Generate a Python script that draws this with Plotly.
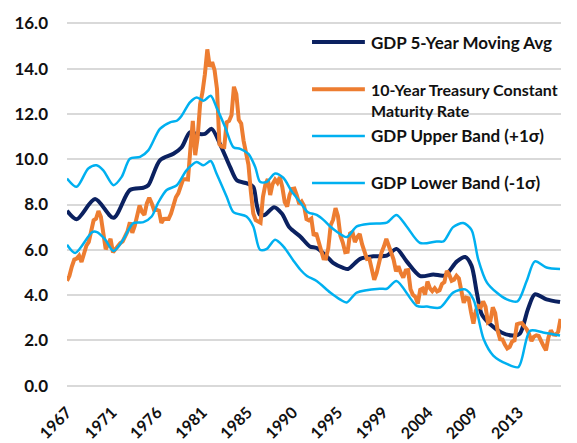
import plotly.graph_objects as go

# ---------------- data ----------------
# 10-Year Treasury Constant Maturity Rate, quarterly from 1967 Q1
treasury_start = 1967.0
treasury = [
    4.63, 4.85, 5.26, 5.57,   5.61, 5.74, 5.46, 5.77,   6.18, 6.35, 6.86, 7.30,
    7.37, 7.71, 7.46, 6.85,   6.02, 6.25, 6.48, 5.89,   6.03, 6.15, 6.29, 6.37,
    6.60, 6.81, 7.21, 6.75,   7.05, 7.54, 7.96, 7.67,   7.54, 8.05, 8.30, 8.06,
    7.75, 7.77, 7.73, 7.19,   7.36, 7.37, 7.36, 7.60,   8.01, 8.32, 8.49, 8.82,
    9.11, 9.11, 9.10, 10.45,  11.69, 10.18, 10.95, 12.42, 12.96, 13.75, 14.85, 14.09,
    14.29, 13.93, 13.11, 10.67, 10.56, 10.54, 11.63, 11.69, 11.94, 13.20, 12.87, 11.74,
    11.58, 10.81, 10.34, 9.76, 8.56, 7.60, 7.31, 7.26,   7.19, 8.34, 8.88, 9.12,
    8.42, 8.91, 9.10, 8.96,   9.21, 8.77, 8.11, 7.91,   8.42, 8.68, 8.70, 8.40,
    8.02, 8.13, 7.94, 7.35,   7.30, 7.38, 6.62, 6.74,   6.28, 5.99, 5.62, 5.61,
    6.07, 7.08, 7.33, 7.84,   7.48, 6.62, 6.32, 5.89,   5.91, 6.72, 6.78, 6.34,
    6.56, 6.70, 6.24, 5.91,   5.59, 5.60, 5.20, 4.67,   4.98, 5.54, 5.88, 6.14,
    6.48, 6.18, 5.89, 5.57,   5.05, 5.27, 4.98, 4.77,   5.08, 5.10, 4.26, 4.01,
    3.92, 3.62, 4.23, 4.29,   4.02, 4.60, 4.30, 4.17,   4.30, 4.16, 4.21, 4.49,
    4.57, 5.07, 4.90, 4.63,   4.68, 4.85, 4.73, 4.26,   3.66, 3.89, 3.86, 3.25,
    2.74, 3.31, 3.52, 3.46,   3.72, 3.49, 2.79, 2.86,   3.46, 3.21, 2.43, 2.05,
    2.04, 1.82, 1.64, 1.71,   1.95, 2.00, 2.71, 2.75,   2.76, 2.62, 2.50, 2.28,
    1.97, 2.16, 2.22, 2.19,   1.92, 1.75, 1.56, 2.13,   2.44, 2.26, 2.24, 2.37,
    2.95,
]
treasury_years = [treasury_start + i / 4 for i in range(len(treasury))]

# GDP 5-Year Moving Average
gdp_avg_years = [1967.0, 1968.0, 1969.9, 1971.8, 1973.5, 1974.9, 1975.4, 1976.6, 1978.0,
                 1978.85, 1979.7, 1980.4, 1981.25, 1981.95, 1982.8, 1983.85, 1984.55,
                 1985.6, 1986.25, 1986.6, 1986.95, 1987.45, 1988.4, 1989.2, 1990.0,
                 1991.1, 1992.1, 1992.8, 1993.85, 1994.5, 1995.55, 1996.05, 1997.3,
                 1998.65, 2000.05, 2001.05, 2002.1, 2003.5, 2004.85, 2006.05, 2007.3,
                 2008.15, 2008.8, 2009.35, 2009.85, 2010.7, 2011.9, 2013.1, 2013.8,
                 2014.65, 2015.35, 2016.55, 2017.95]
gdp_avg = [7.72, 7.35, 8.24, 7.41, 8.64, 8.74, 8.85, 9.95, 10.24,
           10.53, 11.19, 11.12, 11.12, 11.34, 10.68, 9.66, 9.07,
           8.93, 8.78, 8.00, 7.54, 7.54, 7.88, 7.60, 6.98,
           6.59, 6.15, 6.08, 5.71, 5.42, 5.20, 5.15, 5.60,
           5.71, 5.74, 6.04, 5.49, 4.84, 4.91, 4.87, 5.49,
           5.68, 5.30, 4.11, 3.16, 2.72, 2.35, 2.21, 2.30,
           3.40, 4.03, 3.81, 3.69]

# GDP Upper Band (+1 sigma)
gdp_upper_years = [1967.0, 1968.0, 1969.2, 1970.05, 1970.75, 1971.8, 1972.65, 1973.5,
                   1974.55, 1975.4, 1976.6, 1977.65, 1978.35, 1978.85, 1979.7, 1980.4,
                   1981.1, 1981.85, 1982.45, 1983.35, 1984.2, 1984.9, 1985.75, 1986.45,
                   1986.95, 1987.65, 1988.5, 1989.35, 1990.25, 1991.1, 1991.9, 1992.8,
                   1993.5, 1994.2, 1994.85, 1995.9, 1996.95, 1998.3, 2000.05, 2001.05,
                   2002.1, 2003.5, 2005.2, 2005.9, 2006.9, 2007.95, 2008.8, 2009.5,
                   2010.4, 2011.4, 2012.45, 2013.55, 2014.5, 2015.35, 2016.55, 2017.95]
gdp_upper = [9.15, 8.78, 9.59, 9.73, 9.51, 8.85, 9.22, 10.02,
             10.10, 10.39, 11.34, 11.63, 11.70, 11.92, 12.51, 12.73,
             12.58, 12.80, 12.29, 11.41, 10.53, 10.46, 10.24, 9.66,
             9.00, 9.00, 9.37, 9.18, 8.56, 8.10, 7.66, 7.54,
             7.32, 7.03, 6.81, 6.56, 7.03, 7.15, 7.20, 7.54,
             7.03, 6.30, 6.37, 6.37, 7.00, 7.18, 6.88, 5.57,
             4.55, 4.11, 3.81, 3.72, 4.62, 5.49, 5.22, 5.15]

# GDP Lower Band (-1 sigma)
gdp_lower_years = [1967.0, 1967.85, 1969.6, 1970.1, 1970.95, 1971.8, 1972.8, 1973.85,
                   1974.9, 1975.75, 1976.45, 1977.3, 1978.35, 1979.35, 1980.4, 1981.1,
                   1981.85, 1982.45, 1983.5, 1984.2, 1985.55, 1986.25, 1986.95, 1987.65,
                   1988.5, 1989.35, 1990.4, 1991.1, 1991.8, 1992.8, 1994.2, 1995.2,
                   1995.9, 1996.95, 1999.35, 2000.05, 2001.05, 2003.15, 2004.2, 2005.55,
                   2006.9, 2008.15, 2009.0, 2010.05, 2011.05, 2012.45, 2013.65, 2014.85,
                   2016.2, 2017.95]
gdp_lower = [6.22, 5.86, 6.78, 6.78, 6.45, 5.95, 6.44, 7.18,
             7.22, 7.47, 8.10, 8.64, 8.85, 9.51, 9.88, 9.73,
             9.92, 9.37, 8.34, 7.66, 7.47, 7.03, 6.00, 6.04,
             6.44, 6.15, 5.52, 5.13, 4.84, 4.62, 4.11, 3.81,
             3.67, 4.11, 4.28, 4.28, 4.62, 3.52, 3.49, 3.45,
             4.11, 4.25, 3.81, 2.06, 1.33, 0.96, 0.82, 2.42,
             2.35, 2.21]

tick_labels = ["1967", "1971", "1976", "1981", "1985", "1990",
               "1995", "1999", "2004", "2009", "2013"]
tick_years = [1967 + i * 56 / 12 for i in range(len(tick_labels))]
y_ticks = [0, 2, 4, 6, 8, 10, 12, 14, 16]
x_range = [1967.0, 2018.05]

series_names = ["GDP 5-Year Moving Avg",
                "10-Year Treasury Constant<br>Maturity Rate",
                "GDP Upper Band (+1σ)",
                "GDP Lower Band (-1σ)"]

# ---------------- style ----------------
NAVY = "#0B2160"
ORANGE = "#ED7D31"
LIGHT = "#00B0F0"
GRID = "#D9D9D9"
FONT = "Lato"
TXT = "#111111"

fig = go.Figure()

fig.add_trace(go.Scatter(x=gdp_avg_years, y=gdp_avg, mode="lines",
                         line=dict(color=NAVY, width=4, shape="spline", smoothing=0.8),
                         name=series_names[0], showlegend=False))
fig.add_trace(go.Scatter(x=treasury_years, y=treasury, mode="lines",
                         line=dict(color=ORANGE, width=4),
                         name=series_names[1], showlegend=False))
fig.add_trace(go.Scatter(x=gdp_upper_years, y=gdp_upper, mode="lines",
                         line=dict(color=LIGHT, width=2.5, shape="spline", smoothing=0.8),
                         name=series_names[2], showlegend=False))
fig.add_trace(go.Scatter(x=gdp_lower_years, y=gdp_lower, mode="lines",
                         line=dict(color=LIGHT, width=2.5, shape="spline", smoothing=0.8),
                         name=series_names[3], showlegend=False))

# legend drawn as key lines + text (positions in plot-area fractions)
legend_colors = [NAVY, ORANGE, LIGHT, LIGHT]
legend_widths = [4, 4, 2.5, 2.5]
legend_sizes = [17, 16, 17, 17]
legend_line_y = [0.945, 0.816, 0.688, 0.559]
legend_text_y = [0.945, 0.786, 0.688, 0.559]
for i in range(4):
    fig.add_shape(type="line", xref="paper", yref="paper",
                  x0=0.496, x1=0.603, y0=legend_line_y[i], y1=legend_line_y[i],
                  line=dict(color=legend_colors[i], width=legend_widths[i]))
    fig.add_annotation(xref="paper", yref="paper", x=0.612, y=legend_text_y[i],
                       text=series_names[i], showarrow=False, xanchor="left",
                       yanchor="middle", align="left",
                       font=dict(family=FONT, size=legend_sizes[i], color=TXT,
                                 weight="bold"))

fig.update_layout(
    template="none",
    width=577, height=443,
    margin=dict(l=67, r=16, t=22, b=56, autoexpand=False),
    paper_bgcolor="white", plot_bgcolor="white",
    showlegend=False,
    font=dict(family=FONT, size=17, color=TXT, weight="bold"),
)
fig.update_xaxes(range=x_range, tickmode="array", tickvals=tick_years,
                 ticktext=tick_labels, tickangle=-45, showgrid=False, zeroline=False,
                 showline=False, ticks="", ticklabelstandoff=12, automargin=False,
                 tickfont=dict(family=FONT, size=16, color=TXT, weight="bold"))
fig.update_yaxes(range=[-0.06, 16.06], tickmode="array", tickvals=y_ticks,
                 tickformat=".1f", showgrid=True, gridcolor=GRID, gridwidth=2,
                 zeroline=False, showline=False, ticks="", ticklabelstandoff=18,
                 automargin=False,
                 tickfont=dict(family=FONT, size=17, color=TXT, weight="bold"))

fig.write_html("out.html",
               config={"displayModeBar": False, "staticPlot": True},
               post_script="document.body.style.margin='0px';"
                           "document.body.style.overflow='hidden';")
